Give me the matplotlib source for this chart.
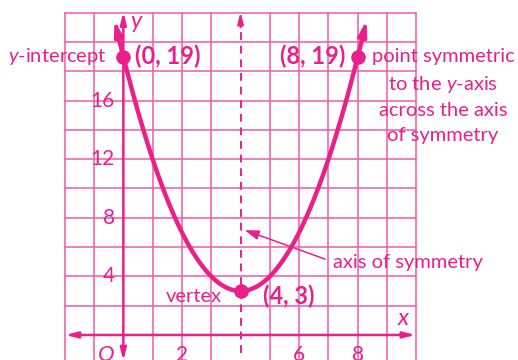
#!/usr/bin/env python3

import numpy as np
import matplotlib
matplotlib.use("Agg")
import matplotlib.pyplot as plt

# parabola y = a (x - h)^2 + k
a_coef = 1
vertex_x = 4
vertex_y = 3
x_start, x_end = -0.3, 8.3

# labelled points
point_x = [0, 4, 8]
point_y = [19, 3, 19]
point_labels = ["(0, 19)", "(4, 3)", "(8, 19)"]

y_ticks = [4, 8, 12, 16]
x_ticks = [2, 6, 8]

pink = "#ea1f8a"
grid_pink = "#ef5aa5"
FONT = "Lato"

plt.rcParams["font.family"] = [FONT, "DejaVu Sans"]
plt.rcParams["mathtext.fontset"] = "custom"
plt.rcParams["mathtext.it"] = f"{FONT}:italic"
plt.rcParams["mathtext.rm"] = FONT

fig = plt.figure(figsize=(5.18, 3.6), dpi=100)
ax = fig.add_axes([0, 0, 1, 1])
ax.set_xlim(-4.21, 13.47)
ax.set_ylim(-1.71, 22.87)
ax.axis("off")

# grid
for gx in range(-2, 11):
    if gx in (0, vertex_x):
        continue
    ax.plot([gx, gx], [-2, 22], color=grid_pink, lw=1.1, zorder=1)
for gy in range(2, 23, 2):
    ax.plot([-2, 10], [gy, gy], color=grid_pink, lw=1.1, zorder=1)

arrow = dict(arrowstyle="<|-|>,head_length=0.7,head_width=0.18", color=pink,
             lw=1.8, shrinkA=0, shrinkB=0)
# axes
ax.annotate("", xy=(9.97, 0), xytext=(-1.98, 0), arrowprops=arrow, zorder=3)
ax.annotate("", xy=(0, 22.05), xytext=(0, -1.75), arrowprops=arrow, zorder=3)
# axis of symmetry
ax.plot([vertex_x, vertex_x], [-1.2, 21.5], color=pink, lw=1.4,
        ls=(0, (4, 3)), zorder=3)
head = dict(arrowstyle="-|>,head_length=0.7,head_width=0.18", color=pink,
            lw=1.4, shrinkA=0, shrinkB=0)
ax.annotate("", xy=(vertex_x, 22.05), xytext=(vertex_x, 21.0), arrowprops=head, zorder=3)
ax.annotate("", xy=(vertex_x, -1.75), xytext=(vertex_x, -0.8), arrowprops=head, zorder=3)

# parabola
xs = np.linspace(x_start + 0.1, x_end - 0.1, 300)
ys = a_coef * (xs - vertex_x) ** 2 + vertex_y
ax.plot(xs, ys, color=pink, lw=3.2, solid_capstyle="butt", zorder=4)
phead = dict(arrowstyle="-|>,head_length=0.9,head_width=0.25", color=pink,
             lw=2.5, shrinkA=0, shrinkB=0)
for x0, x1 in [(x_start + 0.12, x_start), (x_end - 0.12, x_end)]:
    y0 = a_coef * (x0 - vertex_x) ** 2 + vertex_y
    y1 = a_coef * (x1 - vertex_x) ** 2 + vertex_y
    ax.annotate("", xy=(x1, y1), xytext=(x0, y0), arrowprops=phead, zorder=4)

ax.scatter(point_x, point_y, s=110, color=pink, zorder=5, linewidths=0)

# point labels
ax.text(0.4, 19, point_labels[0], color=pink, fontsize=17, fontweight="bold",
        ha="left", va="center", zorder=6)
ax.text(4.75, 2.65, point_labels[1], color=pink, fontsize=17, fontweight="bold",
        ha="left", va="center", zorder=6)
ax.text(7.57, 19, point_labels[2], color=pink, fontsize=17, fontweight="bold",
        ha="right", va="center", zorder=6)

# annotations
ax.text(-0.56, 19, "$y$-intercept", color=pink, fontsize=14.5, ha="right", va="center", zorder=6)
ax.text(10.91, 19.6, "point symmetric\nto the $y$-axis\nacross the axis\nof symmetry",
        color=pink, fontsize=14.5, ha="center", va="top", linespacing=1.55, zorder=6)
ax.text(3.37, 2.6, "vertex", color=pink, fontsize=14.5, ha="right", va="center", zorder=6)
ax.annotate("axis of symmetry", xy=(4.14, 7.16), xytext=(7.16, 4.98),
            color=pink, fontsize=14.5, ha="left", va="center", zorder=6,
            arrowprops=dict(arrowstyle="-|>,head_length=0.6,head_width=0.2",
                            color=pink, lw=1.1, shrinkA=4, shrinkB=0,
                            relpos=(0, 0.5)))

# axis letters and ticks
ax.text(9.58, 1.1, "$x$", color=pink, fontsize=17, ha="center", va="center", zorder=6)
ax.text(0.45, 21.25, "$y$", color=pink, fontsize=17, ha="center", va="center", zorder=6)
for t in y_ticks:
    ax.text(-0.3, t, str(t), color=pink, fontsize=15, ha="right", va="center", zorder=6)
for t in x_ticks:
    ax.text(t, -0.7, str(t), color=pink, fontsize=15, ha="center", va="top", zorder=6)
ax.text(-0.28, -0.7, "$O$", color=pink, fontsize=16, ha="right", va="top", zorder=6)

fig.savefig("out.png", dpi=100, facecolor="white")
